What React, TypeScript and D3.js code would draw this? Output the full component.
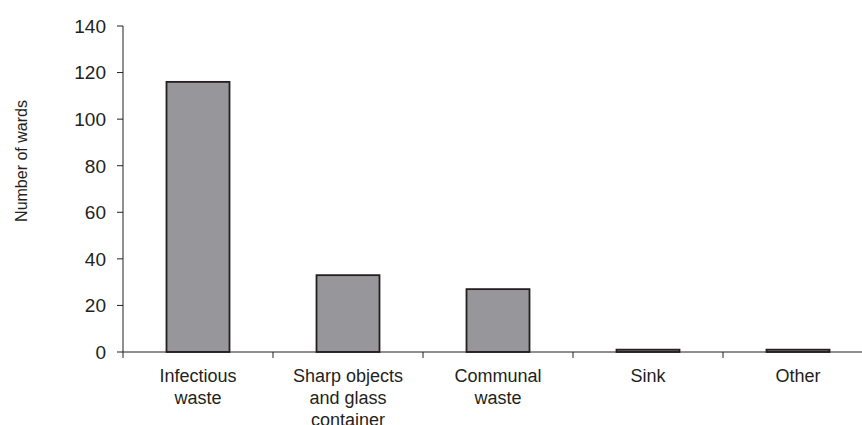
import React from "react";
import * as d3 from "d3";

const categories = [
  ["Infectious", "waste"],
  ["Sharp objects", "and glass", "container"],
  ["Communal", "waste"],
  ["Sink"],
  ["Other"],
];
const values = [116, 33, 27, 1, 1];
const yTicks = [0, 20, 40, 60, 80, 100, 120, 140];

const W = 862;
const H = 425;
const left = 123;
const bandW = 150;
const top = 26;
const bottom = 352;

export default function App() {
  const keys = categories.map((c) => c.join(" "));
  const x = d3
    .scaleBand<string>()
    .domain(keys)
    .range([left, left + bandW * keys.length])
    .paddingInner(0.58)
    .paddingOuter(0.29);
  const y = d3.scaleLinear().domain([0, 140]).range([bottom, top]);
  const font = "'Liberation Sans', Arial, sans-serif";
  const ticksX = d3.range(keys.length + 1).map((i) => left + i * bandW);

  return (
    <svg
      width={W}
      height={H}
      style={{ position: "absolute", left: 0, top: 0, background: "#fff" }}
    >
      {/* bars */}
      {values.map((v, i) => {
        const bx = x(keys[i])!;
        const yTop = y(v);
        const h = bottom - yTop;
        return (
          <rect
            key={i}
            x={bx}
            y={yTop}
            width={x.bandwidth()}
            height={h}
            fill="#97979b"
            stroke="#231f20"
            strokeWidth={1.8}
          />
        );
      })}
      {/* y axis */}
      <line x1={left} x2={left} y1={top} y2={bottom} stroke="#231f20" strokeWidth={1} />
      {yTicks.map((t) => (
        <g key={t}>
          <line x1={left - 6} x2={left} y1={y(t)} y2={y(t)} stroke="#231f20" strokeWidth={1} />
          <text
            x={left - 17}
            y={y(t)}
            dy="0.36em"
            textAnchor="end"
            fontFamily={font}
            fontSize={19}
            fill="#231f20"
          >
            {t}
          </text>
        </g>
      ))}
      {/* x axis */}
      <line x1={left} x2={W} y1={bottom} y2={bottom} stroke="#231f20" strokeWidth={1} />
      {ticksX.map((tx, i) => (
        <line key={i} x1={tx} x2={tx} y1={bottom} y2={bottom + 6} stroke="#231f20" strokeWidth={1} />
      ))}
      {categories.map((lines, i) => {
        const cx = x(keys[i])! + x.bandwidth() / 2;
        return (
          <text
            key={i}
            textAnchor="middle"
            fontFamily={font}
            fontSize={18}
            fill="#231f20"
          >
            {lines.map((l, j) => (
              <tspan key={j} x={cx} y={382 + j * 22}>
                {l}
              </tspan>
            ))}
          </text>
        );
      })}
      <text
        transform={`translate(27,161) rotate(-90)`}
        textAnchor="middle"
        fontFamily={font}
        fontSize={16}
        fill="#231f20"
      >
        Number of wards
      </text>
    </svg>
  );
}
